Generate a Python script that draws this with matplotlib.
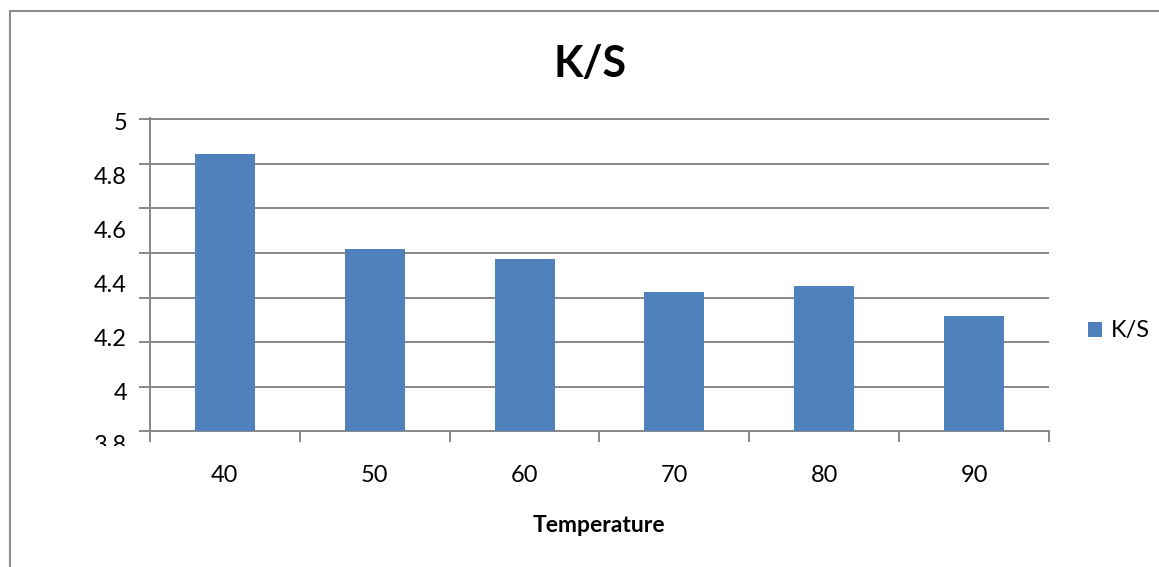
import matplotlib.pyplot as plt
import numpy as np
from matplotlib.patches import Rectangle
from matplotlib.transforms import Bbox, TransformedBbox

# data
temperatures = ['40', '50', '60', '70', '80', '90']
ks_values = [4.88, 4.53, 4.49, 4.37, 4.39, 4.28]
ytick_values = [5, 4.8, 4.6, 4.4, 4.2, 4, 3.8]
ytick_labels = ['5', '4.8', '4.6', '4.4', '4.2', '4', '3.8']

plt.rcParams['font.family'] = ['Lato', 'DejaVu Sans']

W, H = 1159, 567
gray = '#878787'
bar_color = '#4F81BD'

fig = plt.figure(figsize=(W / 100, H / 100), dpi=100)
ax = fig.add_axes([150 / W, 1 - 431.3 / H, 899 / W, 313.3 / H])

x = np.arange(len(temperatures))
ax.bar(x, ks_values, width=0.4, color=bar_color, label='K/S', zorder=3)

ax.set_xlim(-0.5, len(temperatures) - 0.5)
ax.set_ylim(3.853, 5.0137)

# gridlines (8 evenly spaced lines, as in the original) on minor ticks
ax.set_yticks(np.linspace(3.853, 5.009, 8), minor=True)
ax.yaxis.grid(True, which='minor', color=gray, lw=1.4, zorder=0)
ax.tick_params(axis='y', which='minor', length=8, width=1.4, color=gray)

# value labels on major ticks
ax.set_yticks(ytick_values[:-1])
ax.set_yticklabels(ytick_labels[:-1])
ax.tick_params(axis='y', which='major', length=0, labelsize=17, pad=16.5)

# bottom label is cut off in the original
lbl = ax.text(-23 / 899, ytick_values[-1], ytick_labels[-1], transform=ax.get_yaxis_transform(),
              ha='right', va='center', fontsize=17)
lbl.set_clip_box(TransformedBbox(Bbox.from_extents(0, 1 - 446 / H, 1, 1 - 431 / H), fig.transFigure))
lbl.set_clip_on(True)

ax.set_xticks(x)
ax.set_xticklabels(temperatures)
ax.tick_params(axis='x', which='major', length=0, labelsize=17, pad=24)
ax.set_xticks(np.arange(-0.5, len(temperatures)), minor=True)
ax.tick_params(axis='x', which='minor', length=8, width=1.4, color=gray)

for side in ['top', 'right']:
    ax.spines[side].set_visible(False)
for side in ['left', 'bottom']:
    ax.spines[side].set_color(gray)
    ax.spines[side].set_linewidth(1.4)

fig.text(590 / W, 1 - 77 / H, 'K/S', ha='center', va='baseline', fontsize=31, fontweight='bold')
fig.text(599 / W, 1 - 532 / H, 'Temperature', ha='center', va='baseline', fontsize=16.5, fontweight='bold')

ax.legend(loc='center left', bbox_to_anchor=(1088 / W, 1 - 331 / H), bbox_transform=fig.transFigure,
          frameon=False, fontsize=17, handlelength=0.6, handleheight=0.6, handletextpad=0.35,
          borderpad=0, borderaxespad=0)

# chart border (only the left and top edges show)
fig.add_artist(Rectangle((10 / W, -1), 2, 2 - 11 / H, transform=fig.transFigure,
                         fill=False, ec='#8c8c8c', lw=1.5))

fig.savefig('out.png', dpi=100)
